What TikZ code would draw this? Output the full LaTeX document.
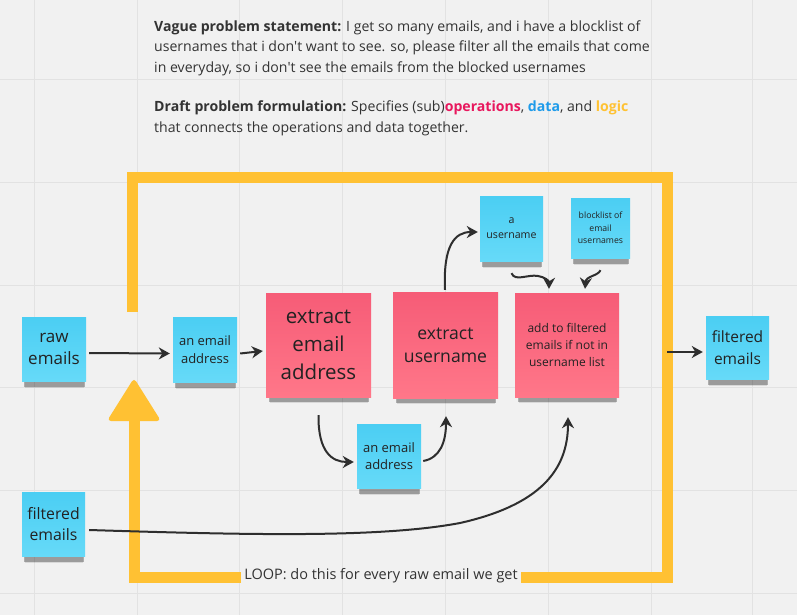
\documentclass[tikz,border=0pt]{standalone}
\usepackage{fontspec}
\setmainfont{Open Sans}[Ligatures=TeXOff]
\usetikzlibrary{arrows.meta,shadows}
\definecolor{bg}{HTML}{F1F1F1}
\definecolor{gridc}{HTML}{E2E2E2}
\definecolor{cyanT}{HTML}{4BCEF3}
\definecolor{cyanB}{HTML}{66DAF8}
\definecolor{pinkT}{HTML}{F65C77}
\definecolor{pinkB}{HTML}{FF7789}
\definecolor{notetext}{HTML}{222222}
\definecolor{hdrtext}{HTML}{333333}
\definecolor{opc}{HTML}{E8175D}
\definecolor{datac}{HTML}{1E9BEA}
\definecolor{logicc}{HTML}{FFC233}
\definecolor{loopc}{HTML}{FFC133}
\definecolor{arr}{HTML}{2E2E2E}
\tikzset{
  note/.style={inner sep=0pt, align=center, text=notetext,
    drop shadow={shadow xshift=0.5pt, shadow yshift=-10pt, shadow scale=0.93, opacity=0.10, fill=black},
    drop shadow={shadow xshift=0.5pt, shadow yshift=-7.5pt, shadow scale=0.96, opacity=0.28, fill=black}},
  cyannote/.style={note, top color=cyanT, bottom color=cyanB},
  pinknote/.style={note, top color=pinkT, bottom color=pinkB},
  hdr/.style={anchor=base west, inner sep=0pt, text=hdrtext, font=\fontsize{14.1}{20}\selectfont},
  conn/.style={draw=arr, line width=2pt, -{Stealth[length=11pt,width=12pt,inset=3.5pt]}},
  loopbar/.style={draw=loopc, line width=11pt}
}
\begin{document}
\begin{tikzpicture}[x=1pt,y=-1pt]
\fill[bg] (0,0) rectangle (797,615);
\useasboundingbox (0,0) rectangle (797,615);
\foreach \x in {34,137,239,342,445,548,651,752} \draw[gridc,line width=1pt] (\x,0) -- (\x,615);
\foreach \y in {80,182,285,387,490,593} \draw[gridc,line width=1pt] (0,\y) -- (797,\y);

% header
\node[hdr] (h1) at (154,32) {\textbf{Vague problem statement:} I get so many emails, and i have a blocklist of};
\node[hdr] (h2) at (154,52) {usernames that i don't want to see. so, please filter all the emails that come};
\node[hdr] (h3) at (154,73) {in everyday, so i don't see the emails from the blocked usernames};
\node[hdr] (h4) at (154,112) {\textbf{Draft problem formulation:} Specifies (sub)\textcolor{opc}{\textbf{operations}}, \textcolor{datac}{\textbf{data}}, and \textcolor{logicc}{\textbf{logic}}};
\node[hdr] (h5) at (154,132) {that connects the operations and data together.};

% loop
\draw[loopbar] (132,312) -- (132,177) -- (667,177) -- (667,577) -- (521,577);
\draw[loopbar] (241,577) -- (134,577) -- (134,410);
\fill[loopc, rounded corners=4pt] (134,378) -- (161,421) -- (107,421) -- cycle;
\node[inner sep=0pt, text=hdrtext, font=\fontsize{14.5}{18}\selectfont] (loop) at (381,576) {LOOP: do this for every raw email we get};

% notes
\node[cyannote, minimum width=64pt, minimum height=64pt, font=\fontsize{17}{22}\selectfont] (raw) at (54,349) {raw\\emails};
\node[cyannote, minimum width=64pt, minimum height=65pt, font=\fontsize{13}{18}\selectfont] (ea1) at (205,349.5) {an email\\address};
\node[pinknote, minimum width=105pt, minimum height=104pt, font=\fontsize{20.5}{28}\selectfont] (xea) at (318.5,345) {extract\\email\\address};
\node[pinknote, minimum width=105pt, minimum height=106pt, font=\fontsize{17.6}{23}\selectfont] (xun) at (445.5,345) {extract\\username};
\node[pinknote, minimum width=104pt, minimum height=104pt, font=\fontsize{12}{16.7}\selectfont] (add) at (567,345) {add to filtered\\emails if not in\\username list};
\node[cyannote, minimum width=63pt, minimum height=65pt, font=\fontsize{10.6}{14.7}\selectfont] (un) at (511.5,228.5) {a\\username};
\node[cyannote, minimum width=59pt, minimum height=60pt, font=\fontsize{8.7}{12.3}\selectfont] (bl) at (600.5,228) {blocklist of\\email\\usernames};
\node[cyannote, minimum width=63pt, minimum height=63pt, font=\fontsize{15.5}{21.7}\selectfont] (fr) at (737.5,347.5) {filtered\\emails};
\node[cyannote, minimum width=64pt, minimum height=64pt, font=\fontsize{13}{17.7}\selectfont] (ea2) at (389,456) {an email\\address};
\node[cyannote, minimum width=63pt, minimum height=64pt, font=\fontsize{15.8}{21.7}\selectfont] (fl) at (53.5,524) {filtered\\emails};

\coordinate (lp) at (667,352);

% connectors
\draw[conn] ([xshift=3pt,yshift=-4pt]raw.east) -- ([xshift=-3pt,yshift=-4pt]ea1.west);
\draw[conn] ([xshift=3pt,yshift=-4pt]ea1.east) -- ([xshift=-3pt,yshift=-6pt]xea.west);
\draw[conn] ([yshift=-18pt]xea.south) .. controls (318,452) and (332,462) .. ([xshift=-3pt,yshift=-6pt]ea2.west);
\draw[conn] ([xshift=2pt,yshift=-5pt]ea2.east) .. controls (440,458) and (446,442) .. ([xshift=0.5pt,yshift=-18pt]xun.south);
\draw[conn] ([xshift=-0.5pt,yshift=2pt]xun.north) .. controls (443,245) and (455,232) .. ([xshift=-2pt,yshift=-3.5pt]un.west);
\draw[conn] ([yshift=-12pt]un.south) .. controls (515,282) and (528,274) .. (538,276) .. controls (545,277) and (549,281) .. ([xshift=-18pt,yshift=4pt]add.north);
\draw[conn] ([yshift=-12pt]bl.south) .. controls (598,276) and (586,276) .. ([xshift=18pt,yshift=4pt]add.north);
\draw[conn] (lp) -- ([xshift=-3pt,yshift=-4.5pt]fr.west);
\draw[conn] ([xshift=4pt,yshift=-6pt]fl.east) .. controls (250,535) and (380,538) .. (460,523) .. controls (540,505) and (568,470) .. ([xshift=1pt,yshift=-20pt]add.south);
\end{tikzpicture}
\end{document}
